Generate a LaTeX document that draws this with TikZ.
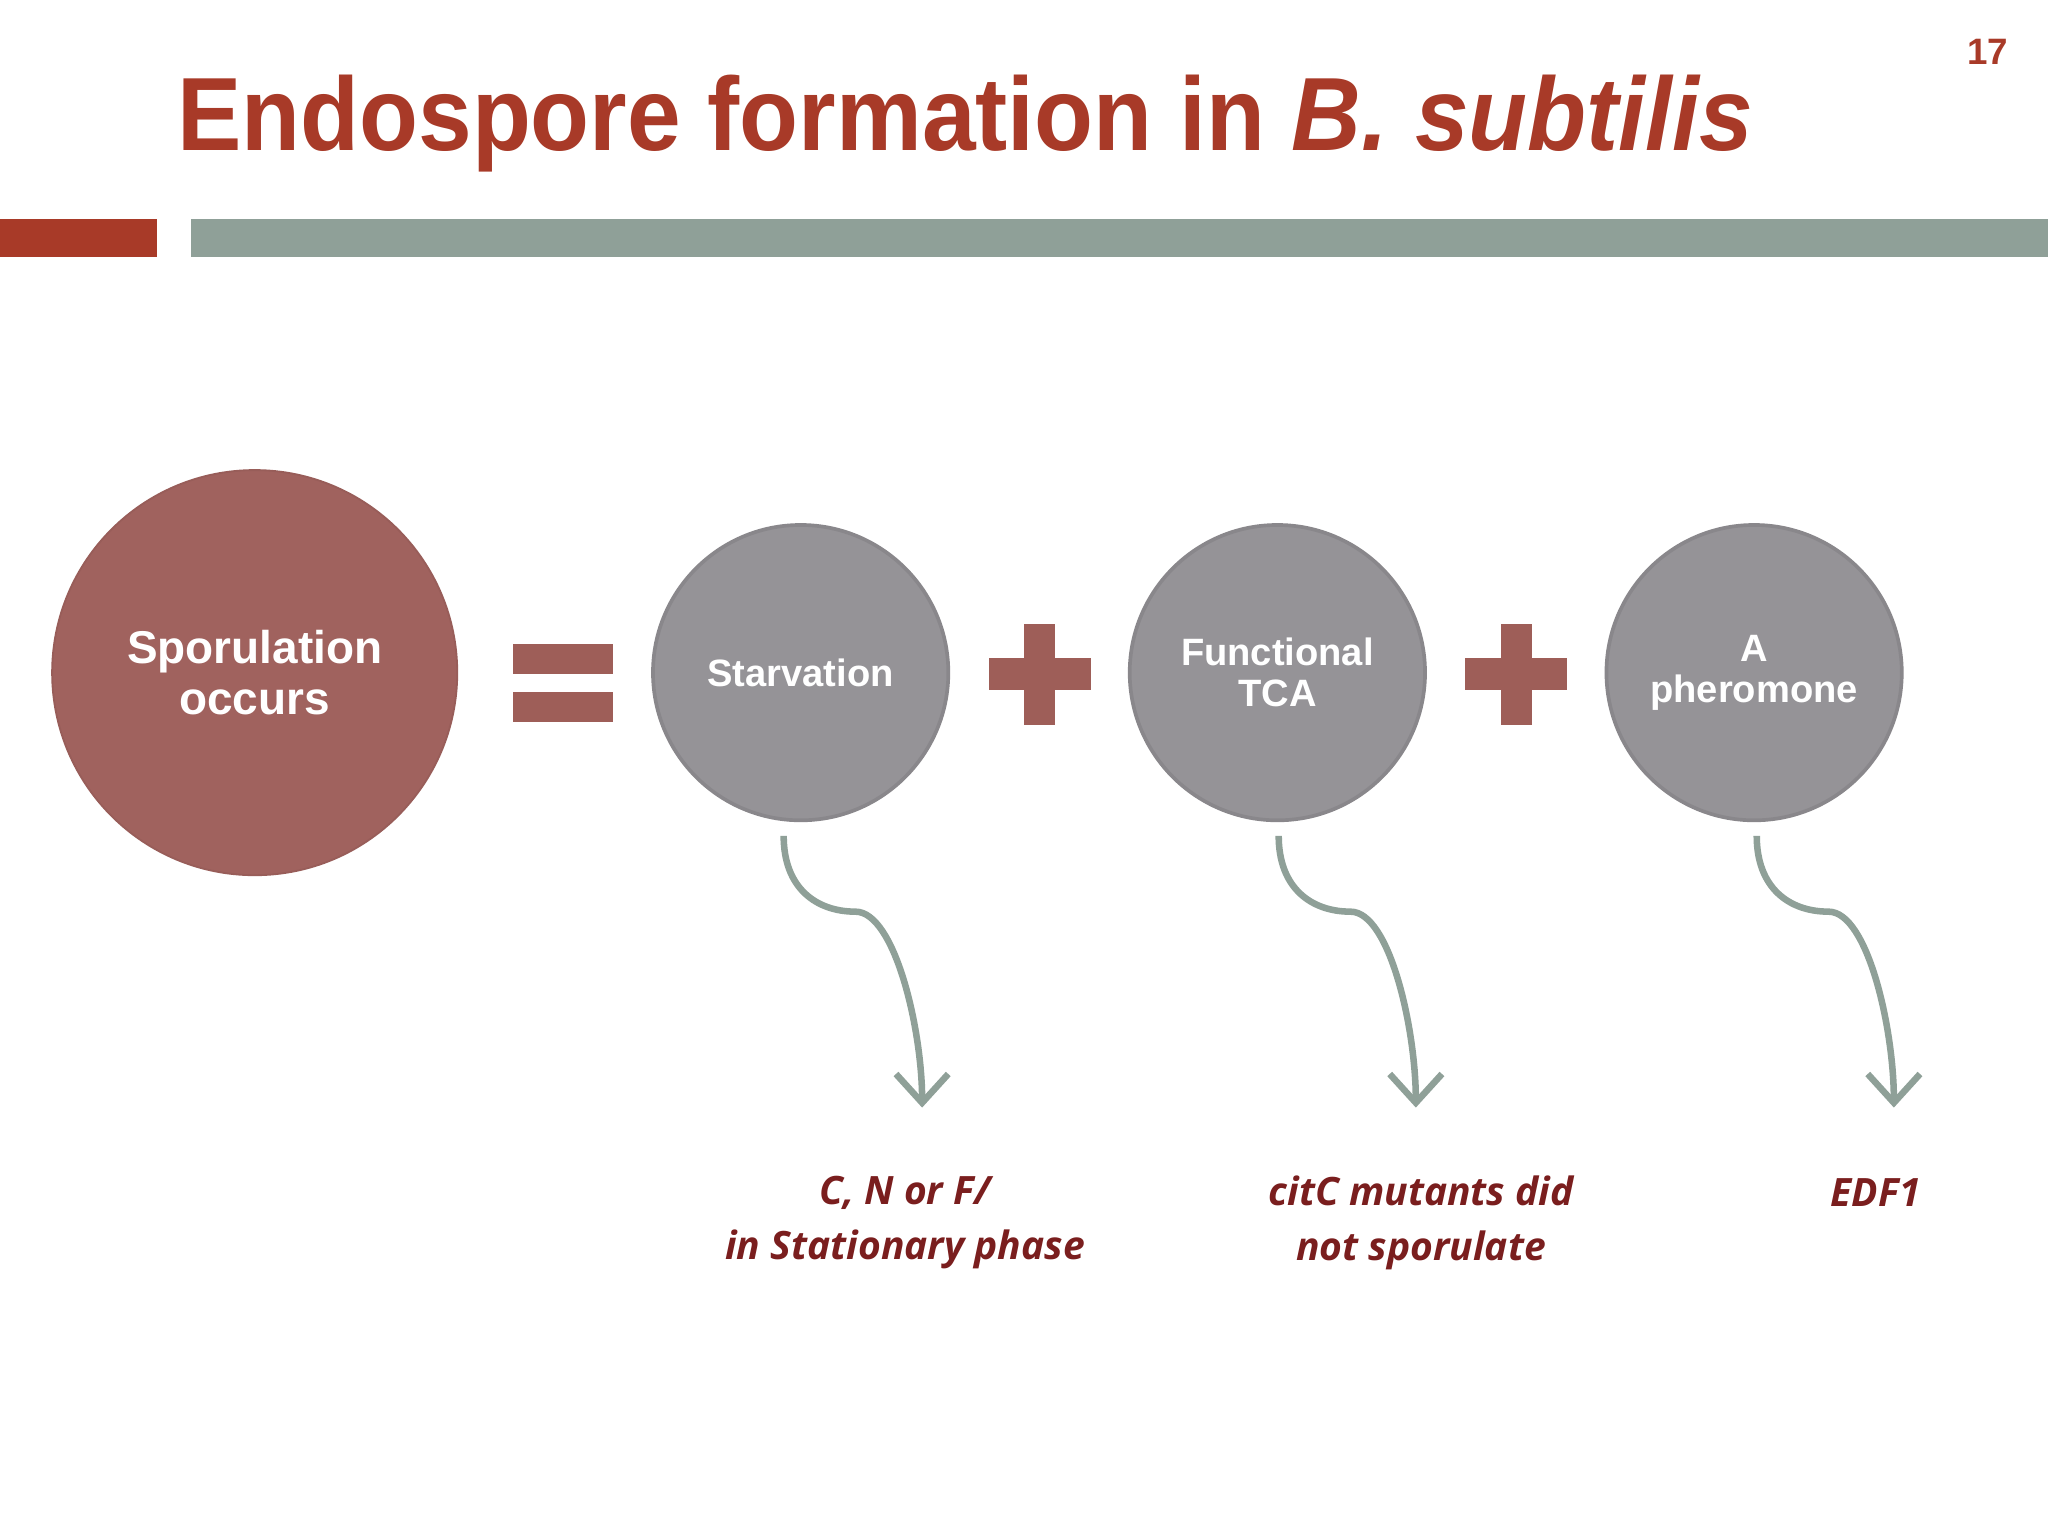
\documentclass[tikz,border=0pt]{standalone}
\usepackage{fontspec}
\setmainfont{Liberation Sans}
\newfontfamily\osans{Open Sans}
\usetikzlibrary{arrows.meta,calc}
\definecolor{tred}{HTML}{A83A28}
\definecolor{barg}{HTML}{8FA098}
\definecolor{bigc}{HTML}{A0625E}
\definecolor{smc}{HTML}{959397}
\definecolor{eqc}{HTML}{9E5E58}
\definecolor{txr}{HTML}{7A1E1E}
\tikzset{
 small/.style={circle,fill=smc,draw=smc!92!black,line width=0.8pt,minimum size=2.26cm,inner sep=0pt,text=white,font=\bfseries\fontsize{8.3}{9}\selectfont,align=center},
 conn/.style={barg,line width=0.05cm,-{Straight Barb[length=0.22cm,width=0.4cm,line width=0.05cm]}},
 note/.style={text=txr,font=\osans\bfseries\itshape\fontsize{8.5}{12}\selectfont,align=center}
}
\begin{document}
\begin{tikzpicture}[x=0.01cm,y=-0.01cm]
\useasboundingbox[fill=white] (0,0) rectangle (1568,1176);
\node[anchor=base west,text=tred,font=\bfseries\fontsize{21}{26}\selectfont,inner sep=0,xscale=1.0,yscale=1.08] (title) at (135,115) {Endospore formation in \textit{B. subtilis}};
\node[text=tred,font=\bfseries\fontsize{8}{9}\selectfont] (num) at (1522,40) {17};
\fill[tred] (0,168) rectangle (120,197);
\fill[barg] (146,168) rectangle (1568,197);
\node[circle,fill=bigc,draw=bigc!95!black,minimum size=3.1cm,inner sep=0pt,text=white,font=\bfseries\fontsize{10}{11}\selectfont,align=center] (spo) at (195,515) {Sporulation\\occurs};
\fill[eqc] (393,493) rectangle (469,516);
\fill[eqc] (393,530) rectangle (469,553);
\node[small] (s1) at (613,515) {Starvation};
\node[small] (s2) at (978,515) {Functional\\TCA};
\node[small] (s3) at (1343,515) {A\\pheromone};
\foreach \x in {796,1161}{
 \fill[eqc] (\x-39,504) rectangle (\x+39,528);
 \fill[eqc] (\x-12,478) rectangle (\x+12,555);
}
\coordinate (a1) at (600,640); \coordinate (b1) at (706,848);
\coordinate (a2) at (979,640); \coordinate (b2) at (1084,848);
\coordinate (a3) at (1345,640); \coordinate (b3) at (1450,848);
\foreach \i in {1,2,3}{
 \draw[conn] (a\i) .. controls ++(0,40) and ++(-30,0) .. ($(a\i)+(55,58)$) .. controls ++(30,0) and ++(0,-60) .. (b\i);
}
\node[note] (t1) at (693,936) {C, N or F/\\in Stationary phase};
\node[note] (t2) at (1088,936) {citC mutants did\\not sporulate};
\node[note,anchor=base] (t3) at (1436,924) {EDF1};
\end{tikzpicture}
\end{document}
